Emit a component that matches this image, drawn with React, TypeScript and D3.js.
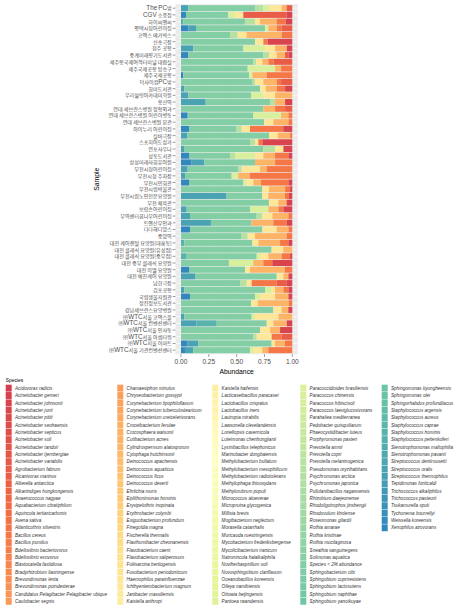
import React from "react";
import * as d3 from "d3";

const W = 468;
const H = 609;

const samples = [
  "The PC방", "CGV 소풍점", "하이씨엔씨", "평택시청어린이집", "코엑스 메가박스", "신송극장", "청주 공항",
  "중계미래향기도서관", "제주항국제여객터미널 대합실", "제주국제공항 탑승구", "제주국제공항", "덕사이컴PC방",
  "힘미도서관", "우리설렁아카데미학원", "용산역", "연대 세브란스병원 정형외과", "연대 세브란스병원 어린이병동",
  "연대 세브란스병원 본관", "아이누리 어린이집", "실버극장", "스포치어도상가", "연포사우나", "성동도서관",
  "삼성미래사회유아원", "부천시청어린이집", "부천시청 주차장", "부천시민회관", "부천시립박물관",
  "부천시립노인전문요양원", "부천 체육관", "보람손어린이집", "무역센터꿈나무어린이집", "트엔산부인과",
  "다다해디앙스", "중앙역", "대전 케어렌탈 요양원(대흥동)", "대전 클래식 요양원(유성점)",
  "대전 클래식 요양원(중부점)", "대전 중부 클래식 요양원", "대전 이엘 요양원", "대전 예찬케어 요양원",
  "남한극장", "김포공항", "국립생물자원관", "정진정보도서관", "강남세브란스요양병원",
  "㈜WTC서울 코엑스몰", "㈜WTC서울 컨벤션센터", "㈜WTC서울 인사동", "㈜WTC서울 아셈타워",
  "㈜WTC서울 이마트", "㈜WTC서울 기관컨벤션센터",
];

const species = [
  "Acidovorax radicis", "Acinetobacter gerneri", "Acinetobacter johnsonii", "Acinetobacter junii",
  "Acinetobacter pittii", "Acinetobacter seohaensis", "Acinetobacter septicus", "Acinetobacter soli",
  "Acinetobacter tandoii", "Acinetobacter tjernbergiae", "Acinetobacter variabilis", "Agrobacterium fabrum",
  "Alcanivorax marinus", "Aliterella antarctica", "Alkanindiges hongkongensis", "Anaerococcus nagyae",
  "Aquabacterium citratiphilum", "Aquincola tertiaricarbonis", "Avena sativa", "Atlanticothrix silvestris",
  "Bacillus cereus", "Bacillus pumilus", "Bdellovibrio bacteriovorus", "Bdellovibrio exovorus",
  "Blastocatella fastidiosa", "Bradyrhizobium liaoningense", "Brevundimonas lenta", "Brevundimonas poindexterae",
  "Candidatus Pelagibacter Pelagibacter ubique", "Caulobacter segnis",
  "Chamaesiphon minutus", "Chryseobacterium gossypii", "Corynebacterium lipophiloflavum",
  "Corynebacterium tuberculostearicum", "Corynebacterium ureicelerivorans", "Croceibacterium ferulae",
  "Crocosphaera watsonii", "Cutibacterium acnes", "Cylindrospermum alatosporum", "Cytophaga hutchinsonii",
  "Deinococcus apachensis", "Deinococcus aquaticus", "Deinococcus ficus", "Deinococcus deserti",
  "Ehrlichia muris", "Epilithonimonas hominis", "Erysipelothrix inopinata", "Erythrobacter colymbi",
  "Exiguobacterium profundum", "Finegoldia magna", "Fischerella thermalis", "Flavihumibacter cheonanensis",
  "Flavobacterium caeni", "Flavobacterium saliperosum", "Foliisarcina bertiogensis", "Fusobacterium periodonticum",
  "Haemophilus parainfluenzae", "Ichthyenterobacterium magnum", "Janibacter massiliensis", "Kaistella anthropi",
  "Kaistella haifensis", "Lacticaseibacillus paracasei", "Lactobacillus crispatus", "Lactobacillus iners",
  "Lautropia mirabilis", "Lawsonella clevelandensis", "Loriellopsis cavernicola", "Luteimonas chenhongjianii",
  "Lysinibacillus telephonicus", "Marinobacter dongbaiensis", "Methylobacterium bullatum",
  "Methylobacterium mesophilicum", "Methylobacterium radiotolerans", "Methylophaga thiooxydans",
  "Methylorubrum populi", "Micrococcus aloeverae", "Micropruina glycogenica", "Millisia brevis",
  "Mogibacterium neglectum", "Moraxella catarrhalis", "Muricauda ruestringensis",
  "Mycobacterium frederiksbergense", "Mycolicibacterium iranicum", "Natronincola halalkaliphila",
  "Noviherbaspirillum soli", "Novosphingobium clariflavum", "Oceanobacillus koreensis", "Olleya namibiensis",
  "Ottowia beijingensis", "Pantoea rwandensis",
  "Paracoccidioides brasiliensis", "Paracoccus chinensis", "Paracoccus hibiscisoli",
  "Paracoccus laeviglucosivorans", "Parahaliea mediterranea", "Pedobacter quisquiliarum",
  "Phaeocystidibacter luteus", "Porphyromonas pasteri", "Prevotella amnii", "Prevotella copri",
  "Prevotella melaninogenica", "Pseudomonas oryzihabitans", "Psychromonas arctica", "Psychromonas japonica",
  "Pullulanibacillus naganoensis", "Rhizobium daejeonense", "Rhodoligotrophos jinshengii", "Rhodovulum kholense",
  "Roseomonas gilardii", "Rothia amarae", "Rothia kristinae", "Rothia mucilaginosa", "Sneathia sanguinegens",
  "Solimonas aquatica", "Species < 2% abundance", "Sphingobacterium cibi", "Sphingobium cupriresistens",
  "Sphingobium lactosutens", "Sphingobium naphthae", "Sphingobium yanoikuyae",
  "Sphingomonas kyungheensis", "Sphingomonas olei", "Sphingorhabdus profundilacus", "Staphylococcus argensis",
  "Staphylococcus aureus", "Staphylococcus caprae", "Staphylococcus hominis", "Staphylococcus pettenkoferi",
  "Stenotrophomonas maltophilia", "Stenotrophomonas pavanii", "Streptococcus dentirousetti",
  "Streptococcus oralis", "Streptococcus thermophilus", "Tepidimonas fonticaldi", "Trichococcus alkaliphilus",
  "Trichococcus pasteurii", "Tsukamurella sputi", "Tychonema bourrellyi", "Weissella koreensis",
  "Xenophilus azovorans",
];

const spectral9 = ["#d53e4f", "#f46d43", "#fdae61", "#fee08b", "#ffffbf", "#e6f598", "#abdda4", "#66c2a5", "#3288bd"];

// abundance per sample (top to bottom) for the visible species
const xenophilusAzovorans = [0, .045, 0, .066, 0, 0, 0, .066, 0, 0, .021, 0, 0, 0, 0, 0, .06, 0, .072, 0, 0, 0, .072, .096, 0, 0, .072, 0, 0, 0, 0, 0, 0, .081, 0, 0, 0, 0, 0, .072, 0, 0, 0, .081, 0, 0, 0, 0, 0, 0, .06, .036];
const streptococcusOralis = [.066, 0, 0, .069, 0, 0, .111, 0, 0, 0, 0, 0, .03, .066, .222, 0, 0, 0, 0, .057, 0, .027, 0, .114, .06, .036, 0, 0, .41, 0, .051, .081, .269, 0, 0, 0, 0, 0, 0, 0, .126, 0, .03, 0, 0, 0, .03, .141, 0, 0, .096, .075];
const staphylococcusHominis = [0, 0, .021, 0, 0, 0, 0, 0, 0, 0, 0, 0, 0, 0, 0, 0, 0, 0, 0, 0, 0, 0, 0, 0, 0, 0, 0, 0, 0, 0, 0, 0, 0, 0, 0, .03, 0, .051, 0, 0, 0, 0, 0, 0, 0, 0, 0, .18, 0, 0, 0, 0];
const minorSpecies = [.599, .38, .554, .62, .44, .665, .449, .674, .65, .599, .59, .644, .68, .563, .578, .74, .59, .749, .428, .734, .62, .713, .368, .455, .455, .419, .488, .731, .32, .79, .569, .599, .365, .65, .539, .611, .814, .629, .431, .503, .734, .53, .725, .584, .629, .829, .605, .449, .71, .65, .659, .509];
const pseudomonasOryzihabitans = [.075, 0, .09, 0, .069, 0, 0, .051, .024, 0, 0, .021, 0, 0, .045, 0, 0, 0, .045, 0, .045, .105, .045, 0, .03, 0, 0, 0, 0, 0, 0, .051, 0, 0, .06, 0, 0, 0, 0, 0, 0, .06, 0, 0, 0, 0, 0, 0, 0, .03, 0, 0];
const paracoccusChinensis = [.051, .06, 0, .03, 0, 0, .195, 0, 0, .246, .03, 0, 0, .111, 0, 0, .249, 0, 0, 0, 0, 0, .18, 0, 0, .06, .03, 0, 0, 0, .165, 0, 0, 0, 0, 0, 0, .03, .219, 0, 0, 0, .06, .045, 0, 0, .03, 0, 0, 0, 0, .03];
const haemophilusParainfluenzae = [.114, .075, .045, 0, .081, .075, .09, .069, .057, 0, 0, .075, .051, .105, 0, 0, 0, .081, .075, .078, .03, .075, .075, 0, .165, 0, .06, .06, .054, .084, 0, .09, 0, .129, .066, .054, .105, .075, 0, .045, .06, .045, .03, .135, .06, .075, .21, .06, .09, .135, .03, .081];
const cutibacteriumAcnes = [.045, 0, .15, .075, .314, 0, .105, .075, .054, .054, .129, .12, .099, .155, .09, .105, .066, .135, 0, .111, 0, 0, .105, .18, .06, .105, .069, .144, .15, .075, .09, .144, .195, .105, .284, .195, .081, .12, .09, .314, .045, 0, .075, .12, .281, .06, .125, .12, .09, 0, .09, .054];
const bacillusCereus = [0, 0, .081, .045, .096, .039, 0, 0, .048, .101, .23, .039, .075, 0, 0, .09, .035, .035, .299, .02, .036, 0, .12, .155, .23, .38, .246, .045, .036, 0, .045, .035, .12, .035, .051, .075, 0, .075, .081, .066, 0, .225, .045, 0, .03, 0, 0, 0, 0, .09, .066, .216];
const agrobacteriumFabrum = [.051, .389, 0, .096, 0, 0, 0, .03, .167, 0, 0, .101, 0, 0, 0, .065, 0, 0, 0, 0, 0, 0, 0, 0, 0, 0, 0, 0, 0, 0, 0, 0, 0, 0, 0, 0, 0, 0, 0, 0, 0, .09, 0, 0, 0, 0, 0, 0, 0, .095, 0, 0];
const acinetobacterJohnsonii = [0, .051, .06, 0, 0, .221, .05, .035, 0, 0, 0, 0, .065, 0, .065, 0, 0, 0, .081, 0, .269, .08, .035, 0, 0, 0, .035, .02, .03, .051, .08, 0, .051, 0, 0, .035, 0, .02, .18, 0, .035, .05, .035, .035, 0, .036, 0, .05, .11, 0, 0, 0];

const seriesData: [string, number[]][] = [
  ["Xenophilus azovorans", xenophilusAzovorans],
  ["Streptococcus oralis", streptococcusOralis],
  ["Staphylococcus hominis", staphylococcusHominis],
  ["Species < 2% abundance", minorSpecies],
  ["Pseudomonas oryzihabitans", pseudomonasOryzihabitans],
  ["Paracoccus chinensis", paracoccusChinensis],
  ["Haemophilus parainfluenzae", haemophilusParainfluenzae],
  ["Cutibacterium acnes", cutibacteriumAcnes],
  ["Bacillus cereus", bacillusCereus],
  ["Agrobacterium fabrum", agrobacteriumFabrum],
  ["Acinetobacter johnsonii", acinetobacterJohnsonii],
];

const xTicks = [0, 0.25, 0.5, 0.75, 1];

const LATIN_FONT = "'Liberation Sans', Arial, sans-serif";
const CJK_FONT = "'Noto Sans CJK KR', 'Liberation Sans', sans-serif";

function MixedLabel({ text, x, y }: { text: string; x: number; y: number }) {
  const parts = text.split(/([A-Za-z]+)/).filter((p) => p.length > 0);
  return (
    <text x={x} y={y} textAnchor="end" fill="#4d4d4d">
      {parts.map((p, i) =>
        /^[A-Za-z]+$/.test(p) ? (
          <tspan key={i} fontFamily={LATIN_FONT} fontSize={6.3}>{p}</tspan>
        ) : (
          <tspan key={i} fontFamily={CJK_FONT} fontSize={5.1}>{p}</tspan>
        )
      )}
    </text>
  );
}

export default function App() {
  const interp = d3.piecewise(d3.interpolateRgb, spectral9);
  const color = d3
    .scaleOrdinal<string, string>()
    .domain(species)
    .range(species.map((_, i) => interp(i / (species.length - 1))));

  const panel = { left: 175.4, right: 297.9, top: 4.15, bottom: 354.2 };
  const x = d3.scaleLinear().domain([-0.05, 1.05]).range([panel.left, panel.right]);
  const y = d3
    .scaleBand<string>()
    .domain(samples)
    .range([panel.top, panel.bottom])
    .paddingInner(0.1)
    .paddingOuter(0.15);

  const rows = samples.map((s, i) => {
    const r: Record<string, any> = { sample: s };
    seriesData.forEach(([name, vals]) => (r[name] = vals[i]));
    return r;
  });
  const keys = seriesData
    .map((d) => d[0])
    .sort((a, b) => species.indexOf(b) - species.indexOf(a));
  const stacked = d3.stack<Record<string, any>>().keys(keys).offset(d3.stackOffsetExpand)(rows);

  const minorTicks = [0.125, 0.375, 0.625, 0.875];

  // legend layout
  const perCol = 30;
  const colX = [5.7, 117.3, 212.3, 300.3, 381.7];
  const legTop = 384.7;
  const legStep = 7.35;

  return (
    <svg
      width={W}
      height={H}
      style={{ position: "absolute", left: 0, top: 0, background: "#fff" }}
      xmlns="http://www.w3.org/2000/svg"
    >
      <rect x={0} y={0} width={W} height={H} fill="#fff" />
      {/* panel */}
      <rect x={panel.left} y={panel.top} width={panel.right - panel.left} height={panel.bottom - panel.top} fill="#ebebeb" />
      {minorTicks.map((t) => (
        <line key={"mn" + t} x1={x(t)} x2={x(t)} y1={panel.top} y2={panel.bottom} stroke="#fff" strokeWidth={0.3} />
      ))}
      {xTicks.map((t) => (
        <line key={"mj" + t} x1={x(t)} x2={x(t)} y1={panel.top} y2={panel.bottom} stroke="#fff" strokeWidth={0.6} />
      ))}
      {samples.map((s) => (
        <line key={"hg" + s} x1={panel.left} x2={panel.right} y1={y(s)! + y.bandwidth() / 2} y2={y(s)! + y.bandwidth() / 2} stroke="#fff" strokeWidth={0.6} />
      ))}
      {/* bars */}
      {stacked.map((layer) => (
        <g key={layer.key} fill={color(layer.key)}>
          {layer.map((d, i) =>
            d[1] - d[0] > 0 ? (
              <rect
                key={i}
                x={x(d[0])}
                y={y(samples[i])}
                width={x(d[1]) - x(d[0])}
                height={y.bandwidth()}
              />
            ) : null
          )}
        </g>
      ))}
      {/* y axis */}
      {samples.map((s) => {
        const cy = y(s)! + y.bandwidth() / 2;
        return (
          <g key={"yl" + s}>
            <line x1={panel.left - 2.7} x2={panel.left} y1={cy} y2={cy} stroke="#333" strokeWidth={0.5} />
            <MixedLabel text={s} x={panel.left - 3.6} y={cy + 2.0} />
          </g>
        );
      })}
      {/* x axis */}
      {xTicks.map((t) => (
        <g key={"xt" + t}>
          <line x1={x(t)} x2={x(t)} y1={panel.bottom} y2={panel.bottom + 2.7} stroke="#333" strokeWidth={0.5} />
          <text x={x(t)} y={panel.bottom + 10.2} textAnchor="middle" fontFamily={LATIN_FONT} fontSize={6.6} fill="#4d4d4d">
            {d3.format(".2f")(t)}
          </text>
        </g>
      ))}
      <text x={(panel.left + panel.right) / 2} y={373.6} textAnchor="middle" fontFamily={LATIN_FONT} fontSize={6.8} fill="#000">
        Abundance
      </text>
      <text
        transform={`translate(98.5, ${(panel.top + panel.bottom) / 2}) rotate(-90)`}
        textAnchor="middle"
        fontFamily={LATIN_FONT}
        fontSize={6.8}
        fill="#000"
      >
        Sample
      </text>
      {/* legend */}
      <text x={5.7} y={382.4} fontFamily={LATIN_FONT} fontSize={4.9} fill="#000">
        Species
      </text>
      {species.map((sp, i) => {
        const c = Math.floor(i / perCol);
        const r = i % perCol;
        const kx = colX[c];
        const ky = legTop + r * legStep;
        return (
          <g key={"lg" + sp}>
            <rect x={kx} y={ky} width={6} height={6.9} fill={color(sp)} />
            <text x={kx + 9.3} y={ky + 5.1} fontFamily={LATIN_FONT} fontStyle="italic" fontSize={4.6} fill="#333">
              {sp}
            </text>
          </g>
        );
      })}
    </svg>
  );
}
